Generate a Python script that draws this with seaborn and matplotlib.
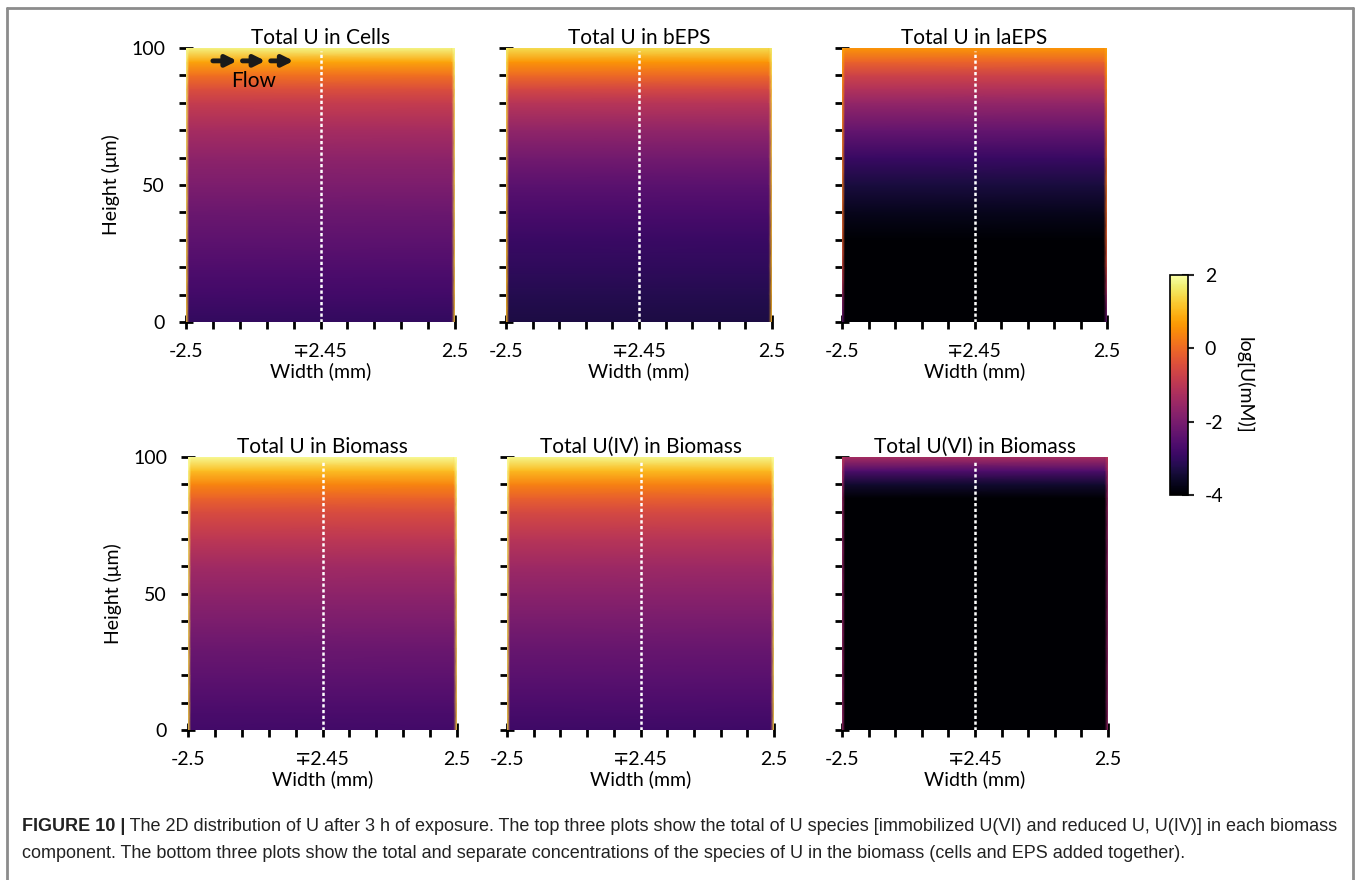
import numpy as np
import matplotlib
matplotlib.use("Agg")
import matplotlib.pyplot as plt
from matplotlib.lines import Line2D
from matplotlib.ticker import MultipleLocator, FixedLocator
import seaborn as sns

sns.set_theme(style="white")
plt.rcParams['font.family'] = ['Lato', 'DejaVu Sans']
plt.rcParams['axes.unicode_minus'] = False

heights = [0, 10, 20, 30, 40, 50, 60, 70, 80, 85, 90, 95, 100]
# column positions (mm): thin bright edge strip on both sides
widths = [-2.5, -2.44, 2.44, 2.5]

titles = ["Total U in Cells", "Total U in bEPS", "Total U in laEPS",
          "Total U in Biomass", "Total U(IV) in Biomass", "Total U(VI) in Biomass"]

# log[U(mM)] in the interior, bottom -> top
cells_mid = [-3.0, -2.8, -2.6, -2.4, -2.2, -1.95, -1.7, -1.35, -0.85, -0.45, 0.1, 0.8, 1.8]
beps_mid = [-3.3, -3.2, -3.05, -2.9, -2.7, -2.45, -2.1, -1.65, -1.05, -0.6, 0.0, 0.6, 1.5]
laeps_mid = [-4.5, -4.5, -4.3, -4.0, -3.7, -3.35, -2.9, -2.3, -1.6, -1.15, -0.7, -0.1, 0.6]
bio_mid = [-2.8, -2.6, -2.4, -2.2, -1.95, -1.7, -1.4, -1.0, -0.5, -0.1, 0.4, 1.1, 1.9]
u4_mid = [-2.85, -2.65, -2.45, -2.25, -2.0, -1.75, -1.45, -1.05, -0.55, -0.15, 0.35, 1.05, 1.85]
u6_mid = [-4.5, -4.5, -4.5, -4.5, -4.5, -4.5, -4.5, -4.5, -4.5, -4.1, -3.5, -2.6, -1.3]

# log[U(mM)] right at the walls x = +-2.5
cells_edge = [1.2, 1.2, 1.3, 1.3, 1.4, 1.4, 1.5, 1.5, 1.6, 1.6, 1.7, 1.8, 1.9]
beps_edge = [1.0, 1.0, 1.1, 1.1, 1.2, 1.2, 1.3, 1.3, 1.4, 1.4, 1.5, 1.6, 1.7]
laeps_edge = [-2.5, -1.5, -0.6, -0.2, 0.0, 0.2, 0.3, 0.4, 0.5, 0.5, 0.6, 0.7, 0.8]
bio_edge = [1.3, 1.3, 1.4, 1.4, 1.5, 1.5, 1.6, 1.6, 1.7, 1.7, 1.8, 1.9, 2.0]
u4_edge = [1.3, 1.3, 1.4, 1.4, 1.5, 1.5, 1.6, 1.6, 1.7, 1.7, 1.8, 1.9, 2.0]
u6_edge = [-1.6, -1.6, -1.6, -1.6, -1.6, -1.6, -1.6, -1.6, -1.5, -1.5, -1.4, -1.2, -1.0]

mids = [cells_mid, beps_mid, laeps_mid, bio_mid, u4_mid, u6_mid]
edges = [cells_edge, beps_edge, laeps_edge, bio_edge, u4_edge, u6_edge]

x_ticklabels = ["-2.5", "\u22132.45", "2.5"]
y_ticklabels = ["0", "50", "100"]
cbar_ticks = [-4, -2, 0, 2]

caption_bold = "FIGURE 10 |"
caption_1 = (" The 2D distribution of U after 3 h of exposure. The top three plots show the total of U species "
             "[immobilized U(VI) and reduced U, U(IV)] in each biomass")
caption_2 = ("component. The bottom three plots show the total and separate concentrations of the species of U "
             "in the biomass (cells and EPS added together).")

W, H = 1360, 880
fig = plt.figure(figsize=(W / 100, H / 100), dpi=100)

# axes boxes in pixels: left, top, right, bottom
boxes = [(186, 48, 455, 322), (506, 48, 772, 322), (842, 48, 1107, 322),
         (188, 457, 457, 730), (507, 457, 774, 730), (842, 457, 1108, 730)]

cmap = sns.color_palette("inferno", as_cmap=True)
tick_kw = dict(direction="inout", length=10, width=2, color="black")

for i, (l, t, r, b) in enumerate(boxes):
    ax = fig.add_axes([l / W, 1 - b / H, (r - l) / W, (b - t) / H])
    mid = np.array(mids[i])
    edge = np.array(edges[i])
    Z = np.column_stack([edge, mid, mid, edge])
    X, Y = np.meshgrid(widths, heights)
    mesh = ax.pcolormesh(X, Y, Z, shading="gouraud", cmap=cmap, vmin=-4, vmax=2)
    ax.axvline(0, color="white", ls=(0, (1.3, 1.0)), lw=1.8, ymax=0.99)
    ax.set_xlim(-2.5, 2.5)
    ax.set_ylim(0, 100)
    for s in ax.spines.values():
        s.set_visible(False)
    ax.xaxis.set_major_locator(FixedLocator([-2.5, 0, 2.5]))
    ax.set_xticklabels(x_ticklabels)
    ax.xaxis.set_minor_locator(MultipleLocator(0.5))
    ax.yaxis.set_major_locator(FixedLocator([0, 50, 100]))
    ax.yaxis.set_minor_locator(MultipleLocator(10))
    ax.tick_params(which="both", bottom=True, left=True, **tick_kw)
    ax.tick_params(which="major", labelsize=14, pad=10, labelcolor="black")
    ax.set_xlabel("Width (mm)", fontsize=14, labelpad=2, color="black")
    if i in (0, 3):
        ax.set_yticklabels(y_ticklabels)
        ax.set_ylabel("Height (\u03bcm)", fontsize=14, labelpad=8, color="black")
    else:
        ax.set_yticklabels([])
    ax.set_title(titles[i], fontsize=15, pad=3, color="black")
    if i == 0:
        for x0, x1 in [(0.10, 0.19), (0.21, 0.295), (0.315, 0.40)]:
            ax.annotate("", xy=(x1, 0.953), xytext=(x0, 0.953), xycoords="axes fraction",
                        arrowprops=dict(arrowstyle="-|>", lw=3.5, color="#1a1a1a",
                                        mutation_scale=16, shrinkA=0, shrinkB=0))
        ax.text(0.25, 0.88, "Flow", transform=ax.transAxes, ha="center", va="center",
                fontsize=15, color="black")

cax = fig.add_axes([1170 / W, 1 - 495 / H, 18 / W, 220 / H])
cb = fig.colorbar(mesh, cax=cax, ticks=cbar_ticks)
cb.outline.set_linewidth(1.2)
cb.outline.set_edgecolor("black")
cax.tick_params(direction="inout", length=8, width=1.5, labelsize=14, pad=8, labelcolor="black")
cb.set_label("log[U(mM)]", rotation=270, fontsize=14, labelpad=22, color="black")

# frame around figure and caption
frame = dict(color="#8c8c8c", lw=2, transform=fig.transFigure)
fig.add_artist(Line2D([7 / W, 1353 / W], [1 - 8 / H, 1 - 8 / H], **frame))
fig.add_artist(Line2D([7 / W, 7 / W], [0, 1 - 8 / H], **frame))
fig.add_artist(Line2D([1353 / W, 1353 / W], [0, 1 - 8 / H], **frame))

cap_font = ["Liberation Sans Narrow", "Liberation Sans", "DejaVu Sans"]
tb = fig.text(22 / W, 1 - 826 / H, caption_bold, fontsize=13, fontweight="bold",
              family=cap_font, va="center", color="#222")
fig.canvas.draw()
bb = tb.get_window_extent()
fig.text(bb.x1 / W, 1 - 826 / H, caption_1, fontsize=13, family=cap_font, va="center", color="#222")
fig.text(22 / W, 1 - 853 / H, caption_2, fontsize=13, family=cap_font, va="center", color="#222")

fig.savefig("out.png", dpi=100)
